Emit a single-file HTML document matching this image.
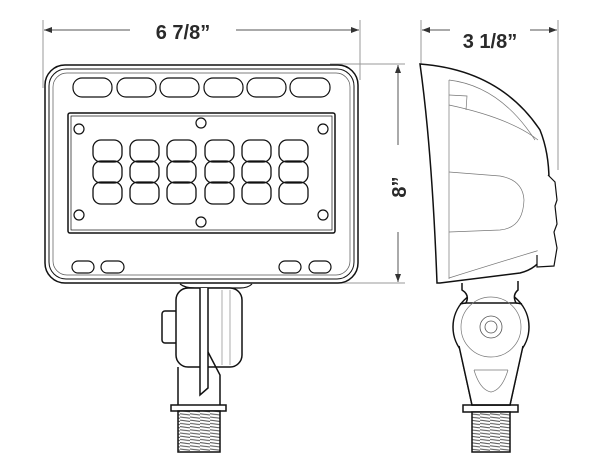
<!DOCTYPE html>
<html><head><meta charset="utf-8"><style>
html,body{margin:0;padding:0;background:#fff;}
svg{display:block;}
text{font-family:"Liberation Sans",Arial,sans-serif;font-weight:bold;fill:#2a2a2a;}
</style></head><body>
<svg width="603" height="474" viewBox="0 0 603 474" xmlns="http://www.w3.org/2000/svg">
<defs>
<marker id="a" markerWidth="8" markerHeight="6" refX="8" refY="3" orient="auto" markerUnits="userSpaceOnUse"><path d="M0,0 L8,3 L0,6 z" fill="#333"/></marker>
<pattern id="th" width="10" height="3.2" patternUnits="userSpaceOnUse"><rect width="10" height="3.2" fill="#fff"/><line x1="0" y1="1" x2="10" y2="2.2" stroke="#555" stroke-width="1"/></pattern>
</defs>
<g stroke="#999" stroke-width="1" fill="none">
<line x1="43" y1="20" x2="43" y2="88"/>
<line x1="360" y1="20" x2="360" y2="80"/>
<line x1="421" y1="20" x2="421" y2="64"/>
<line x1="558" y1="20" x2="558" y2="170"/>
<line x1="330" y1="64" x2="405" y2="64"/>
<line x1="330" y1="283" x2="405" y2="283"/>
</g>
<g stroke="#555" stroke-width="1">
<line x1="130" y1="30" x2="44" y2="30" marker-end="url(#a)"/>
<line x1="236" y1="30" x2="359" y2="30" marker-end="url(#a)"/>
<line x1="450" y1="30" x2="422" y2="30" marker-end="url(#a)"/>
<line x1="530" y1="30" x2="557" y2="30" marker-end="url(#a)"/>
<line x1="398" y1="145" x2="398" y2="65" marker-end="url(#a)"/>
<line x1="398" y1="232" x2="398" y2="282" marker-end="url(#a)"/>
</g>
<text x="183" y="39" font-size="20" text-anchor="middle">6 7/8”</text>
<text x="490" y="48" font-size="20" text-anchor="middle">3 1/8”</text>
<text transform="translate(406,187) rotate(-90)" font-size="20" text-anchor="middle">8”</text>

<g fill="none" stroke="#111" stroke-width="1.5">
<rect x="45" y="65" width="313" height="218" rx="20"/>
<rect x="49" y="69" width="305" height="210" rx="17" stroke-width="1"/>
<rect x="53" y="73" width="297" height="202" rx="14" stroke-width="0.7" stroke="#555"/>
<g stroke-width="1.2">
<rect x="73" y="78" width="39" height="19" rx="9"/>
<rect x="117" y="78" width="39" height="19" rx="9"/>
<rect x="160" y="78" width="39" height="19" rx="9"/>
<rect x="204" y="78" width="39" height="19" rx="9"/>
<rect x="247" y="78" width="39" height="19" rx="9"/>
<rect x="290" y="78" width="40" height="19" rx="9"/>
</g>
<rect x="68" y="113" width="267" height="120" rx="2"/>
<rect x="71" y="116" width="261" height="114" stroke-width="0.7"/>
<g stroke-width="1.2">
<circle cx="79" cy="129" r="5"/><circle cx="201" cy="123" r="5"/><circle cx="323" cy="129" r="5"/>
<circle cx="79" cy="215" r="5"/><circle cx="201" cy="222" r="5"/><circle cx="323" cy="215" r="5"/>
</g>
<g stroke-width="1.3">
<rect x="93" y="140" width="29" height="22" rx="8"/><rect x="93" y="161" width="29" height="22" rx="8"/><rect x="93" y="182" width="29" height="22" rx="8"/>
<rect x="130" y="140" width="29" height="22" rx="8"/><rect x="130" y="161" width="29" height="22" rx="8"/><rect x="130" y="182" width="29" height="22" rx="8"/>
<rect x="167" y="140" width="29" height="22" rx="8"/><rect x="167" y="161" width="29" height="22" rx="8"/><rect x="167" y="182" width="29" height="22" rx="8"/>
<rect x="205" y="140" width="29" height="22" rx="8"/><rect x="205" y="161" width="29" height="22" rx="8"/><rect x="205" y="182" width="29" height="22" rx="8"/>
<rect x="242" y="140" width="29" height="22" rx="8"/><rect x="242" y="161" width="29" height="22" rx="8"/><rect x="242" y="182" width="29" height="22" rx="8"/>
<rect x="279" y="140" width="29" height="22" rx="8"/><rect x="279" y="161" width="29" height="22" rx="8"/><rect x="279" y="182" width="29" height="22" rx="8"/>
</g>
<g stroke-width="1.2">
<rect x="72" y="261" width="22" height="12" rx="6"/><rect x="101" y="261" width="23" height="12" rx="6"/>
<rect x="279" y="261" width="22" height="12" rx="6"/><rect x="309" y="261" width="22" height="12" rx="6"/>
</g>
<!-- front bracket -->
<path d="M180,284 Q185,288 195,288 L240,288 Q248,288 252,284" stroke-width="1.2"/>
<rect x="162" y="311" width="16" height="32" rx="3" fill="#fff"/>
<rect x="176" y="288" width="66" height="79" rx="12" fill="#fff"/>
<path d="M178,367 L178,405 M220,405 L220,375 L208,352"/>
<path d="M200,288 L200,395 L208,388 L208,288" fill="#fff"/>
<line x1="222" y1="290" x2="222" y2="365" stroke="#888" stroke-width="0.7"/>
<line x1="230" y1="290" x2="230" y2="365" stroke="#888" stroke-width="0.7"/>
<rect x="171" y="405" width="55" height="6"/>
<rect x="178" y="411" width="42" height="41" fill="url(#th)"/>
<!-- side view -->
<path d="M420,64 Q500,70 540,130 Q552,160 548,200 L546,250 Q540,268 520,273 L440,283 L437,283 Q432,150 420,64 Z" fill="#fff"/>
<path d="M449,80 L449,279" stroke-width="0.7" stroke="#777"/>
<path d="M449,80 Q500,86 535,140" stroke-width="0.7" stroke="#777"/>
<path d="M449,105 Q510,118 538,140" stroke-width="0.7" stroke="#777"/>
<path d="M449,95 L467,96 L466,110" stroke-width="0.7" stroke="#777"/>
<path d="M449,172 L500,176 Q523,180 524,200 Q523,228 500,230 L449,232" stroke-width="0.7" stroke="#777"/>
<path d="M449,278 Q500,262 540,250" stroke-width="0.7" stroke="#777"/>
<path d="M548,175 L555,182 L557,200 L555,206 L557,224 L554,232 L557,248 L554,266 L537,267 L537,255" fill="#fff" stroke-width="1.2"/>
<path d="M459,345 L472,405 L510,405 L523,345 Z" fill="#fff"/>
<circle cx="491" cy="327" r="38" fill="#fff"/>
<path d="M462,283 L462,290 Q470,295 466,303 L516,303 Q512,295 518,290 L518,281" fill="#fff"/>
<path d="M466,303 A38,38 0 0 0 460,304 M516,303 A38,38 0 0 1 522,304" />
<path d="M459,346 L472,405 L510,405 L523,346" fill="#fff"/>
<circle cx="491" cy="327" r="30" stroke="#777" stroke-width="0.7"/>
<circle cx="491" cy="327" r="11" stroke="#555" stroke-width="0.8"/>
<circle cx="491" cy="327" r="6" stroke="#555" stroke-width="0.8"/>
<path d="M474,370 L508,370 M474,370 Q480,390 491,392 Q502,390 508,370" stroke="#777" stroke-width="0.7"/>
<rect x="463" y="405" width="55" height="7"/>
<rect x="472" y="412" width="38" height="40" fill="url(#th)"/>
</g>
</svg>
</body></html>
